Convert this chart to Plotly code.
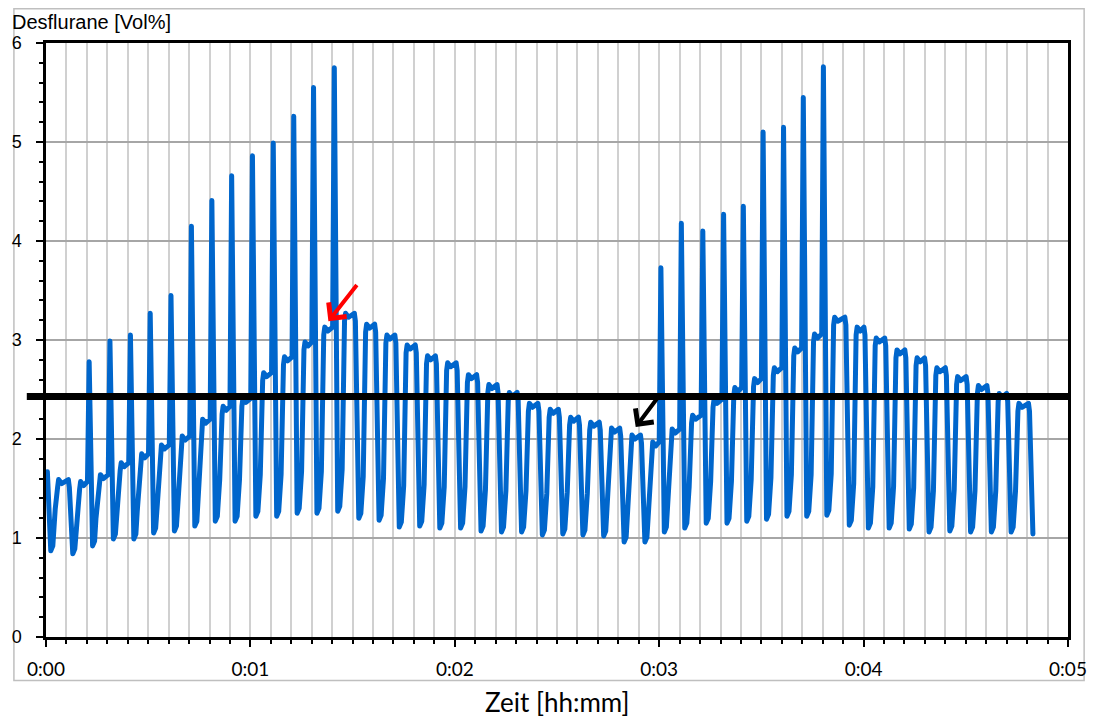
import plotly.graph_objects as go

# ---- data (time in seconds) ----
# time at which each expiratory plateau ends (spike top or start of the fall)
t_drop = [0.4, 6.86, 12.67, 18.77, 24.78, 30.59, 36.69, 42.68, 48.69, 54.50,
          60.60, 66.71, 72.72, 78.53, 84.63, 90.82, 96.77, 102.7, 108.7, 114.6,
          120.7, 126.7, 132.7, 138.6, 144.7, 150.7, 156.6, 162.7, 168.7, 174.8,
          180.5, 186.5, 192.8, 198.9, 204.7, 210.5, 216.5, 222.3, 228.2, 234.8,
          240.4, 246.5, 252.4, 258.2, 264.3, 270.4, 276.5, 282.3, 288.7]
# expiratory plateau level before each drop [Vol%]
plateau = [1.67, 1.59, 1.57, 1.64, 1.76, 1.85, 1.94, 2.03, 2.20, 2.33,
           2.41, 2.67, 2.83, 2.98, 3.13, 3.27, 3.16, 3.05, 2.95, 2.84,
           2.77, 2.65, 2.55, 2.47, 2.36, 2.30, 2.22, 2.17, 2.11, 2.04,
           1.97, 2.10, 2.24, 2.40, 2.52, 2.61, 2.72, 2.92, 3.06, 3.23,
           3.13, 3.02, 2.90, 2.82, 2.72, 2.63, 2.54, 2.46, 2.36]
# inspiratory trough after each drop [Vol%]
trough = [0.87, 0.84, 0.92, 0.99, 0.99, 1.05, 1.07, 1.12, 1.17, 1.17,
          1.22, 1.22, 1.25, 1.25, 1.27, 1.20, 1.18, 1.11, 1.12, 1.10,
          1.10, 1.07, 1.06, 1.06, 1.03, 1.04, 1.03, 1.02, 0.96, 0.96,
          1.06, 1.10, 1.15, 1.15, 1.17, 1.19, 1.22, 1.22, 1.23, 1.13,
          1.10, 1.10, 1.09, 1.06, 1.07, 1.06, 1.06, 1.06, 1.04]
# peak of the short spike at the end of the plateau (None = no spike)
spike = [None, None, 2.78, 2.99, 3.05, 3.27, 3.45, 4.15, 4.41, 4.66,
         4.86, 4.99, 5.26, 5.55, 5.75, None, None, None, None, None,
         None, None, None, None, None, None, None, None, None, None,
         3.73, 4.18, 4.10, 4.27, 4.35, 5.10, 5.15, 5.45, 5.76, None,
         None, None, None, None, None, None, None, None, None]

threshold = 2.43
x_tick_vals = [0, 60, 120, 180, 240, 300]
x_tick_text = ["0:00", "0:01", "0:02", "0:03", "0:04", "0:05"]
y_tick_vals = [0, 1, 2, 3, 4, 5, 6]

# arrows: (tail t, tail v, tip t, tip v)
red_arrow = (91.6, 3.57, 82.9, 3.19)
black_arrow = (180.7, 2.47, 173.1, 2.12)

# ---- build the breathing curve from the per-breath values ----
xs = [t_drop[0]]
ys = [plateau[0]]
for i in range(1, len(t_drop)):
    td0, tr, P, td1 = t_drop[i - 1], trough[i - 1], plateau[i], t_drop[i]
    pts = [(td0 + 1.0, tr), (td0 + 1.6, tr + 0.05), (td0 + 2.0, tr + 0.28),
           (td0 + 2.3, tr + 0.42), (td0 + 3.0, P - 0.08), (td0 + 3.3, P),
           (td0 + 4.2, P - 0.04)]
    if spike[i] is None:
        pts += [(td1 - 0.3, P), (td1, P - 0.08)]
    else:
        pts += [(td1 - 0.5, P), (td1, spike[i])]
    for a, b in pts:
        xs.append(a)
        ys.append(b)
xs.append(t_drop[-1] + 1.0)
ys.append(trough[-1])

fig = go.Figure()
fig.add_trace(go.Scatter(x=xs, y=ys, mode="lines",
                         line=dict(color="#0066cc", width=5),
                         hoverinfo="skip", showlegend=False))

L, R, T, B = 41.4, 1073.7, 43.3, 637.5
W, H = 1099, 719
pw, ph = R - L, B - T

def px(xp):
    return (xp - L) / pw

def py(yp):
    return (B - yp) / ph

fig.update_layout(
    width=W, height=H,
    margin=dict(l=L, r=W - R, t=T, b=H - B, pad=0),
    paper_bgcolor="white", plot_bgcolor="white", showlegend=False,
)
fig.update_xaxes(
    range=[0, 300], tickmode="array", tickvals=x_tick_vals, ticktext=x_tick_text,
    showline=True, linecolor="black", linewidth=2.5, mirror=True,
    ticks="outside", ticklen=7, tickwidth=1.5, tickcolor="black",
    showgrid=True, gridcolor="#d0d0d0", gridwidth=1.5, zeroline=False,
    tickfont=dict(family="Lato", size=19, color="black"), ticklabelstandoff=6,
    minor=dict(tickmode="linear", tick0=0, dtick=6, ticks="outside", ticklen=4,
               tickwidth=1.5, tickcolor="black", showgrid=True,
               gridcolor="#d0d0d0", gridwidth=1.5),
)
fig.update_yaxes(
    range=[0, 6], tickmode="array", tickvals=y_tick_vals,
    showline=True, linecolor="black", linewidth=2.5, mirror=True,
    ticks="outside", ticklen=7, tickwidth=1.5, tickcolor="black",
    showgrid=True, gridcolor="#a6a6a6", gridwidth=1.5, zeroline=False,
    tickfont=dict(family="Liberation Sans", size=18, color="black"),
    ticklabelstandoff=11,
    minor=dict(tickmode="linear", tick0=0, dtick=0.2, ticks="outside", ticklen=4,
               tickwidth=1.5, tickcolor="black", showgrid=False),
)

# outer chart border
fig.add_shape(type="rect", xref="paper", yref="paper",
              x0=px(9), x1=px(1090), y0=py(681), y1=py(9),
              line=dict(color="#bfbfbf", width=1.5), layer="below")
# threshold line
fig.add_shape(type="line", xref="paper", yref="y", x0=px(22), x1=1,
              y0=threshold, y1=threshold, line=dict(color="black", width=7),
              layer="above")

for (tx, tv, hx, hv), col in ((red_arrow, "#ff0000"), (black_arrow, "black")):
    fig.add_annotation(x=hx, y=hv, ax=tx, ay=tv, xref="x", yref="y",
                       axref="x", ayref="y", text="", showarrow=True,
                       arrowhead=4, arrowsize=1.1, arrowwidth=4,
                       arrowcolor=col, standoff=0)

fig.add_annotation(text="Desflurane [Vol%]", xref="paper", yref="paper",
                   x=px(5), y=py(22), xanchor="left", yanchor="middle",
                   showarrow=False,
                   font=dict(family="Liberation Sans", size=20, color="black"))
fig.add_annotation(text="Zeit [hh:mm]", xref="paper", yref="paper",
                   x=0.5, y=py(703), xanchor="center", yanchor="middle",
                   showarrow=False,
                   font=dict(family="Lato", size=26, color="black"))

post = ("document.querySelectorAll('.scatterlayer path.js-line').forEach(function(p){"
        "p.style.strokeLinejoin='round';p.style.strokeLinecap='round';});")
fig.write_html("out.html", post_script=post)
